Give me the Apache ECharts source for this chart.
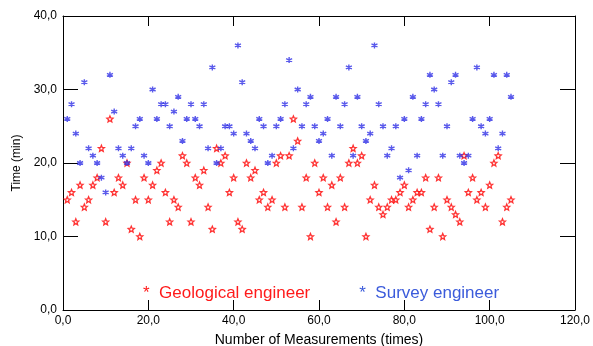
<!DOCTYPE html>
<html>
<head>
<meta charset="utf-8">
<script src="https://cdn.jsdelivr.net/npm/echarts@6/dist/echarts.min.js"></script>
<style>
  html, body { margin: 0; padding: 0; background: #fff; }
  #chart { width: 593px; height: 346px; }
</style>
</head>
<body>
<div id="chart"></div>
<script>
// Measurement index (1..105) for both engineers
const measurements = Array.from({ length: 105 }, (_, i) => i + 1);

// Time taken per measurement, minutes
const geologicalTimes = [
  15, 16, 12, 17, 14, 15, 17, 18, 22, 12,
  26, 16, 18, 17, 20, 11, 15, 10, 18, 15,
  17, 19, 20, 16, 12, 15, 14, 21, 20, 12,
  18, 17, 19, 14, 11, 22, 20, 21, 16, 18,
  12, 11, 20, 18, 19, 15, 16, 14, 15, 20,
  21, 14, 21, 26, 23, 14, 18, 10, 20, 16,
  18, 14, 17, 12, 18, 14, 20, 22, 20, 21,
  10, 15, 17, 14, 13, 14, 15, 15, 16, 17,
  14, 15, 16, 16, 18, 11, 14, 18, 10, 15,
  14, 13, 12, 21, 16, 18, 15, 16, 14, 17,
  20, 21, 12, 14, 15
];
const surveyTimes = [
  26, 28, 24, 20, 31, 22, 21, 20, 18, 16,
  32, 27, 22, 21, 20, 22, 25, 26, 21, 20,
  30, 26, 28, 28, 25, 27, 29, 23, 26, 28,
  26, 25, 28, 22, 33, 20, 22, 25, 25, 24,
  36, 31, 24, 23, 22, 26, 25, 20, 21, 25,
  26, 28, 34, 22, 30, 25, 28, 29, 25, 23,
  24, 26, 21, 29, 25, 28, 33, 21, 29, 25,
  23, 24, 36, 28, 25, 21, 22, 25, 18, 26,
  19, 29, 21, 26, 28, 32, 30, 28, 21, 25,
  31, 32, 21, 20, 21, 26, 33, 25, 24, 26,
  32, 22, 24, 32, 29
];

const seriesNames = ['Geological engineer', 'Survey engineer'];
const xTicks = { min: 0, max: 120, interval: 20 };
const yTicks = { min: 0, max: 40, interval: 10 };

const starPath = 'path://M0,-100 L26.5,-36.4 L95.1,-30.9 L42.8,13.9 L58.8,80.9 L0,45 L-58.8,80.9 L-42.8,13.9 L-95.1,-30.9 L-26.5,-36.4 Z';
const asteriskPath = 'path://M0,-100 L0,100 M-87,-50 L87,50 M-87,50 L87,-50';

const fmt = v => v.toFixed(1).replace('.', ',');
const pair = (xs, ys) => xs.map((x, i) => [x, ys[i]]);

const FONT = 'Liberation Sans, Arial, sans-serif';
const axisLine = { show: true, onZero: false, lineStyle: { color: '#000', width: 1 } };

const chart = echarts.init(document.getElementById('chart'), null, { renderer: 'canvas' });
chart.setOption({
  animation: false,
  backgroundColor: '#fff',
  grid: { left: 63, right: 18, top: 16, bottom: 36, containLabel: false, outerBoundsMode: 'none' },
  legend: {
    bottom: 39,
    left: 133,
    itemGap: 44,
    itemWidth: 0,
    itemHeight: 0,
    icon: 'none',
    selectedMode: false,
    formatter: name => '*  ' + name,
    textStyle: { fontFamily: FONT, fontSize: 17 },
    data: [
      { name: seriesNames[0], textStyle: { color: '#ff1a1a' } },
      { name: seriesNames[1], textStyle: { color: '#3b5bdb' } }
    ]
  },
  xAxis: [
    {
      type: 'value', position: 'bottom',
      min: xTicks.min, max: xTicks.max, interval: xTicks.interval,
      name: 'Number of Measurements (times)',
      nameLocation: 'middle', nameGap: 23,
      nameTextStyle: { fontFamily: FONT, fontSize: 14, color: '#000' },
      axisLine,
      axisTick: { show: true, inside: true, length: 10, lineStyle: { color: '#000' } },
      axisLabel: { formatter: fmt, fontFamily: FONT, fontSize: 12, color: '#000', margin: 5 },
      splitLine: { show: false }
    },
    {
      type: 'value', position: 'top',
      min: xTicks.min, max: xTicks.max, interval: xTicks.interval,
      axisLine,
      axisTick: { show: true, inside: true, length: 10, lineStyle: { color: '#000' } },
      axisLabel: { show: false },
      splitLine: { show: false }
    }
  ],
  yAxis: [
    {
      type: 'value', position: 'left',
      min: yTicks.min, max: yTicks.max, interval: yTicks.interval,
      name: 'Time (min)',
      nameLocation: 'middle', nameGap: 33,
      nameTextStyle: { fontFamily: FONT, fontSize: 12, color: '#000' },
      axisLine,
      axisTick: { show: true, inside: true, length: 15, lineStyle: { color: '#000' } },
      axisLabel: { formatter: fmt, fontFamily: FONT, fontSize: 12, color: '#000', margin: 6 },
      splitLine: { show: false }
    },
    {
      type: 'value', position: 'right',
      min: yTicks.min, max: yTicks.max, interval: yTicks.interval,
      axisLine,
      axisTick: { show: true, inside: true, length: 15, lineStyle: { color: '#000' } },
      axisLabel: { show: false },
      splitLine: { show: false }
    }
  ],
  series: [
    {
      name: seriesNames[0],
      type: 'scatter',
      xAxisIndex: 0, yAxisIndex: 0,
      symbol: starPath,
      symbolSize: 6,
      itemStyle: { color: '#fff', borderColor: '#ff0000', borderWidth: 1.3 },
      data: pair(measurements, geologicalTimes)
    },
    {
      name: seriesNames[1],
      type: 'scatter',
      xAxisIndex: 0, yAxisIndex: 0,
      symbol: asteriskPath,
      symbolSize: 6,
      itemStyle: { color: '#2f2fe6', borderColor: '#2f2fe6', borderWidth: 1.4 },
      data: pair(measurements, surveyTimes)
    }
  ]
});
</script>
</body>
</html>
